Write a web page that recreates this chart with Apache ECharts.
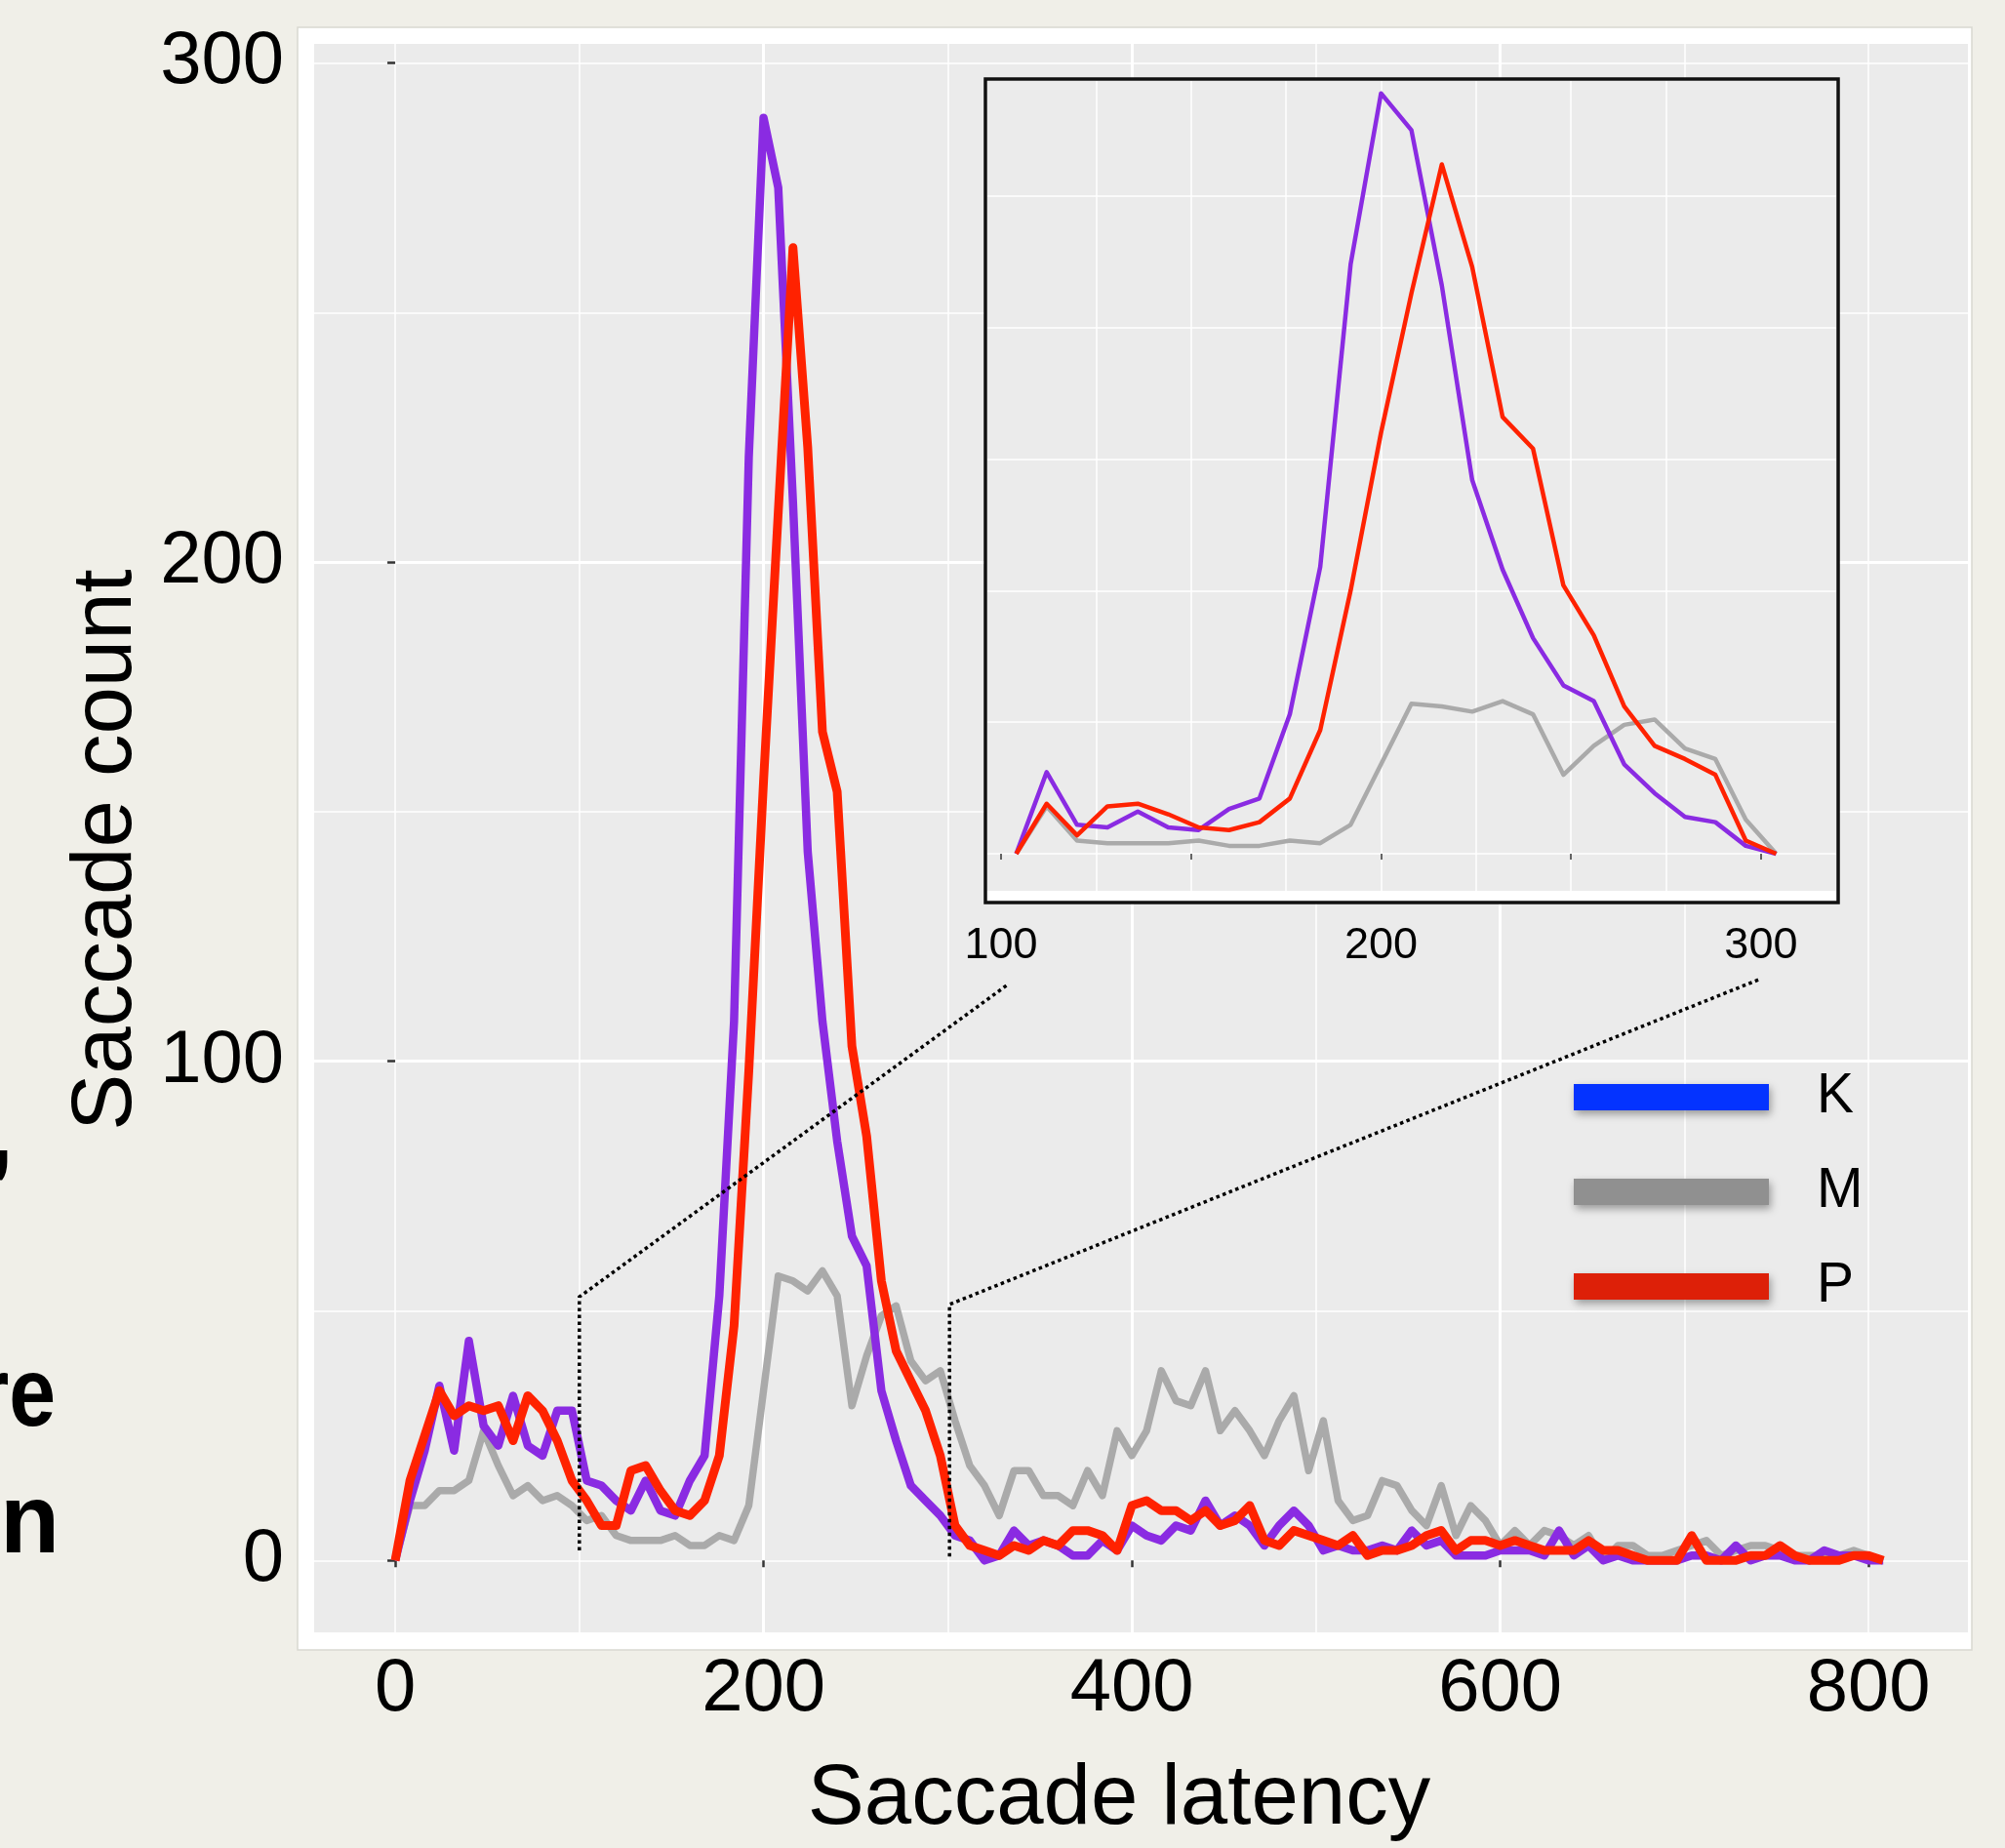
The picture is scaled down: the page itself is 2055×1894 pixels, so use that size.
<!DOCTYPE html>
<html>
<head>
<meta charset="utf-8">
<script src="https://cdn.jsdelivr.net/npm/echarts@6/dist/echarts.min.js"></script>
<style>
  html, body { margin: 0; padding: 0; background: #f0efe8; }
  #chart { width: 2055px; height: 1894px; }
</style>
</head>
<body>
<div id="chart"></div>
<script>
// ---------------- DATA ----------------
// Main histogram bins (saccade latency, 8 ms bins)
const latency = [0,8,16,24,32,40,48,56,64,72,80,88,96,104,112,120,128,136,144,152,160,168,176,184,192,200,208,216,224,232,240,248,256,264,272,280,288,296,304,312,320,328,336,344,352,360,368,376,384,392,400,408,416,424,432,440,448,456,464,472,480,488,496,504,512,520,528,536,544,552,560,568,576,584,592,600,608,616,624,632,640,648,656,664,672,680,688,696,704,712,720,728,736,744,752,760,768,776,784,792,800,808];

const countK = [
  0,12,22,35,22,44,27,23,33,23,21,30,30,
  16,15,12,10,16,10,9,16,21,53,108,221,289,
  275,212,142,108,84,65,59,34,24,15,12,9,5,
  4,0,1,6,3,4,3,1,1,4,2,7,5,
  4,7,6,12,7,9,7,3,7,10,7,2,3,
  2,2,3,2,6,3,4,1,1,1,2,2,2,
  1,6,1,3,0,1,0,0,0,0,1,1,0,
  3,0,1,1,0,0,2,1,1,0,0
];
const countM = [
  0,11,11,14,14,16,26,19,13,15,12,13,11,
  8,9,5,4,4,4,5,3,3,5,4,11,34,
  57,56,54,58,53,31,41,49,51,40,36,38,28,
  19,15,9,18,18,13,13,11,18,13,26,21,26,
  38,32,31,38,26,30,26,21,28,33,18,28,12,
  8,9,16,15,10,7,15,5,11,8,3,6,3,
  6,5,3,5,0,3,3,1,1,2,3,4,1,
  2,3,3,2,1,1,1,1,2,1,0
];
const countP = [
  0,16,25,34,29,31,30,31,24,33,30,24,16,
  12,7,7,18,19,14,10,9,12,21,47,98,156,
  210,263,223,166,154,103,85,56,42,36,30,21,7,
  3,2,1,3,2,4,3,6,6,5,2,11,12,
  10,10,8,10,7,8,11,4,3,6,5,4,3,
  5,1,2,2,3,5,6,2,4,4,3,4,3,
  2,2,2,4,2,2,1,0,0,0,5,0,0,
  0,1,1,3,1,0,0,0,1,1,0
];

// Inset (zoom of 100-300 ms)
const insetLatency = [104,112,120,128,136,144,152,160,168,176,184,192,200,208,216,224,232,240,248,256,264,272,280,288,296,304];
const insetK = [0,31,11,10,16,10,9,17,21,53,109,224,289,275,216,142,108,82,64,58,34,23,14,12,3,0];
const insetM = [0,18,5,4,4,4,5,3,3,5,4,11,34,57,56,54,58,53,30,41,49,51,40,36,13,0];
const insetP = [0,19,7,18,19,15,10,9,12,21,47,100,160,213,262,223,166,154,102,83,56,41,36,30,5,0];

// Tick labels
const mainXTicks = [0,200,400,600,800];
const mainYTicks = [0,100,200,300];
const insetXLabels = [100,200,300];
const insetXTicks = [100,150,200,250,300];
const insetXGrid = [100,125,150,175,200,225,250,275,300];

const seriesNames = ['K','M','P'];
// ---------------------------------------

const FONT = "'Liberation Sans', Arial, Helvetica, sans-serif";
const colK = '#8a2be2', colM = '#aaaaaa', colP = '#ff2200';
const legendCols = ['#0433ff', '#909090', '#dd2008'];

const pairs = (xs, ys) => xs.map((x, i) => [x, ys[i]]);

const chart = echarts.init(document.getElementById('chart'), null, { renderer: 'canvas', width: 2055, height: 1894 });

const lineSeries = (name, xs, ys, color, width, xi, yi, z) => ({
  name, type: 'line', xAxisIndex: xi, yAxisIndex: yi,
  data: pairs(xs, ys), symbol: 'none', showSymbol: false, silent: true, z,
  itemStyle: { color }, lineStyle: { color, width, join: 'round', cap: 'butt' }
});

const option = {
  backgroundColor: '#f0efe8',
  animation: false,
  grid: [
    { left: 322, top: 45, width: 1695, height: 1632, show: true, backgroundColor: '#ebebeb', borderWidth: 0, z: 0 },
    { left: 1012, top: 83, width: 870, height: 830, show: true, backgroundColor: '#ebebeb', borderWidth: 0, z: 2 }
  ],
  xAxis: [
    { gridIndex: 0, type: 'value', min: -44, max: 854, splitNumber: 5, z: 0,
      axisLine: { show: false },
      axisTick: { show: true, customValues: mainXTicks, length: 7, lineStyle: { color: '#333', width: 2.5 } },
      axisLabel: { customValues: mainXTicks, fontSize: 76, color: '#000', fontFamily: FONT, margin: 21 },
      splitLine: { show: true, showMinLine: false, showMaxLine: false, lineStyle: { color: '#ffffff', width: 3 } },
      name: 'Saccade latency', nameLocation: 'middle', nameGap: 129,
      nameTextStyle: { fontSize: 87, color: '#000', fontFamily: FONT, padding: [0, 45, 0, 0] } },
    { gridIndex: 0, type: 'value', min: -44, max: 854, splitNumber: 9, z: 0,
      axisLine: { show: false }, axisTick: { show: false }, axisLabel: { show: false },
      splitLine: { show: true, showMinLine: false, showMaxLine: false, lineStyle: { color: '#ffffff', width: 1.5 } } },
    { gridIndex: 1, type: 'value', min: 96.4, max: 319.8, z: 2,
      axisLine: { show: false },
      axisTick: { show: true, customValues: insetXTicks, length: 6, lineStyle: { color: '#333', width: 1.5 } },
      axisLabel: { customValues: insetXLabels, fontSize: 45, color: '#000', fontFamily: FONT, margin: 34 },
      splitLine: { show: false } },
    { gridIndex: 1, type: 'value', min: 96.4, max: 319.8, z: 2,
      axisLine: { show: false }, axisTick: { show: false, customValues: insetXGrid }, axisLabel: { show: false },
      splitLine: { show: true, showMinLine: false, showMaxLine: false, lineStyle: { color: '#ffffff', width: 1.5 } } }
  ],
  yAxis: [
    { gridIndex: 0, type: 'value', min: -14.4, max: 303.8, splitNumber: 3, z: 0,
      axisLine: { show: false },
      axisTick: { show: true, customValues: mainYTicks, length: 8, lineStyle: { color: '#333', width: 2.5 } },
      axisLabel: { customValues: mainYTicks, fontSize: 76, color: '#000', fontFamily: FONT, margin: 31, padding: [15, 0, 0, 0] },
      splitLine: { show: true, showMinLine: false, showMaxLine: false, lineStyle: { color: '#ffffff', width: 3 } },
      name: 'Saccade count', nameLocation: 'middle', nameGap: 168,
      nameTextStyle: { fontSize: 87, color: '#000', fontFamily: FONT, padding: [0, 24, 0, 0] } },
    { gridIndex: 0, type: 'value', min: -14.4, max: 303.8, splitNumber: 6, z: 0,
      axisLine: { show: false }, axisTick: { show: false }, axisLabel: { show: false },
      splitLine: { show: true, showMinLine: false, showMaxLine: false, lineStyle: { color: '#ffffff', width: 1.5 } } },
    { gridIndex: 1, type: 'value', min: -14.1, max: 293.7, splitNumber: 6, z: 2,
      axisLine: { show: false }, axisTick: { show: false }, axisLabel: { show: false },
      splitLine: { show: true, showMinLine: false, showMaxLine: false, lineStyle: { color: '#ffffff', width: 1.5 } } }
  ],
  legend: {
    orient: 'vertical', left: 1613, top: 1096, padding: 0,
    itemWidth: 200, itemHeight: 27, itemGap: 40, icon: 'rect', selectedMode: false,
    textStyle: { fontSize: 57, color: '#000', fontFamily: FONT, padding: [4, 0, 0, 44] },
    itemStyle: { shadowBlur: 8, shadowColor: 'rgba(0,0,0,0.35)', shadowOffsetX: 2, shadowOffsetY: 4 },
    data: seriesNames.map((n, i) => ({ name: n, itemStyle: { color: legendCols[i] } }))
  },
  series: [
    lineSeries('M', latency, countM, colM, 7.5, 0, 0, 3),
    lineSeries('K', latency, countK, colK, 8.5, 0, 0, 3),
    lineSeries('P', latency, countP, colP, 9, 0, 0, 3),
    lineSeries('M', insetLatency, insetM, colM, 4.5, 2, 2, 4),
    lineSeries('K', insetLatency, insetK, colK, 4.5, 2, 2, 4),
    lineSeries('P', insetLatency, insetP, colP, 4.5, 2, 2, 4)
  ]
};
chart.setOption(option);

// ---- Annotations: frame, inset box, connectors, cut-off slide text ----
const mainPt = (x, y) => chart.convertToPixel({ xAxisIndex: 0, yAxisIndex: 0 }, [x, y]);
const insetPt = (x, y) => chart.convertToPixel({ xAxisIndex: 2, yAxisIndex: 2 }, [x, y]);

const c1 = [mainPt(100, 2), mainPt(100, 52.8), insetPt(101.8, -49.7)];
const c2 = [mainPt(301, 0.8), mainPt(301, 51.3), insetPt(300, -47.5)];
const dotted = { stroke: '#000', lineWidth: 3.5, lineDash: [3.5, 3.5], fill: null };
const slideFont = "bold 100px 'Liberation Sans', Arial, sans-serif";

chart.setOption({
  graphic: [
    { type: 'rect', z: -1, silent: true, shape: { x: 305, y: 28, width: 1716, height: 1663 },
      style: { fill: '#ffffff', stroke: '#d9d9d1', lineWidth: 1.5 } },
    { type: 'rect', z: 1, silent: true, shape: { x: 1010, y: 81, width: 874, height: 844 },
      style: { fill: '#ffffff', stroke: '#111111', lineWidth: 3.5 } },
    { type: 'polyline', z: 5, silent: true, shape: { points: c1 }, style: dotted },
    { type: 'polyline', z: 5, silent: true, shape: { points: c2 }, style: dotted },
    { type: 'text', z: 5, silent: true, x: 57, y: 1433, scaleX: 0.86,
      style: { text: 'are', font: slideFont, fill: '#000', align: 'right', verticalAlign: 'middle' } },
    { type: 'text', z: 5, silent: true, x: 61, y: 1563,
      style: { text: 'en', font: slideFont, fill: '#000', align: 'right', verticalAlign: 'middle' } },
    { type: 'text', z: 5, silent: true, x: 14, y: 1166,
      style: { text: 's,', font: slideFont, fill: '#000', align: 'right', verticalAlign: 'middle' } }
  ]
});
</script>
</body>
</html>
